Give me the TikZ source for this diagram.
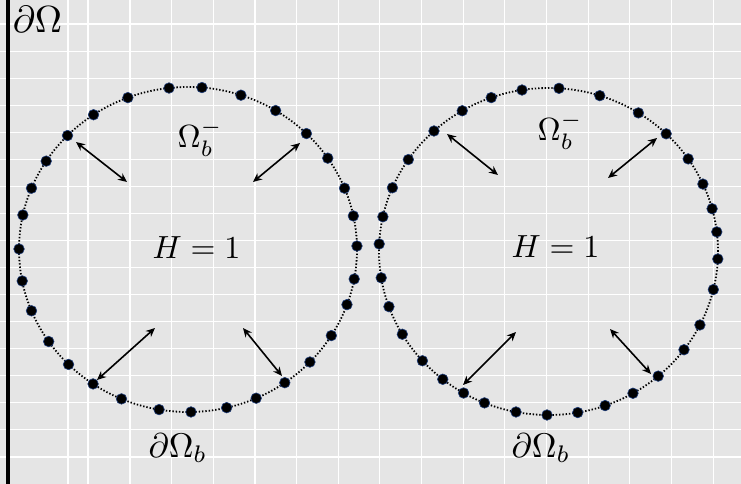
\documentclass[tikz,border=0pt]{standalone}
\usetikzlibrary{arrows.meta}
\definecolor{panel}{HTML}{E5E5E5}
\definecolor{ring}{HTML}{1F3D7A}
\tikzset{
  gridline/.style={draw=white, line width=1.1pt},
  wall/.style={draw=black, line width=3.5pt},
  bdry/.style={draw=black, line width=1.8pt, dash pattern=on 1.4pt off 1.9pt},
  bead/.style={fill=black, draw=ring, line width=0.6pt},
  dblarrow/.style={draw=black, line width=1.6pt, {Stealth[length=9pt,width=8pt]}-{Stealth[length=9pt,width=8pt]}},
  lbl/.style={inner sep=0pt, anchor=base west, scale=3.2, transform shape}
}
\begin{document}
\begin{tikzpicture}[x=1pt,y=-1pt]
\useasboundingbox (0,0) rectangle (741,484);
\fill[panel] (0,0) rectangle (741,484);
% grid
\foreach \k in {0,...,16} \draw[gridline] (0,{24+27.06*\k}) -- (741,{24+27.06*\k});
\foreach \xx in {68,88} \draw[gridline] (\xx,0) -- (\xx,484);
\foreach \k in {0,...,14} \draw[gridline] ({130+41.65*\k},0) -- ({130+41.65*\k},484);
% wall
\draw[wall] (8,0) -- (8,484);
% left closed curve
\draw[bdry] (188,249.5) ellipse [x radius=169pt, y radius=162.5pt];
\foreach \px/\py in {128/98,169/88,202/87,241/95,276/110,307/133,328/158,345/188,353/216,357/246,354/279,348/305,332/336,311/363,285/383,257/400,227/409,191/412,159/410,121/400,93/384,69/364,48/342,31/311,22/281,19.5/249,23/215,31/188,46/161,68/136,93/114}{
  \pgfmathsetmacro\t{atan2(-(\py-249.5)/162.5, (\px-188)/169)}
  \fill[bead] ({188+169*cos(\t)},{249.5-162.5*sin(\t)}) circle[radius=5.3pt];
}
% right closed curve
\draw[bdry] (548.5,251.5) ellipse [x radius=169.5pt, y radius=163.5pt];
\foreach \px/\py in {380/244,384/217,393/188,409/160,434/131,463/112,491/97,522/90,559/88,600/95,639/112,666/134,688/159,703/184,711/209,716/232,718/259,715/290,700/325,683/349,659/377,634/395,606/408,578/414,547/415,516/412,484/404,463/394,443/379,421/362,401/335,388/307,380/278}{
  \pgfmathsetmacro\t{atan2(-(\py-251.5)/163.5, (\px-548.5)/169.5)}
  \fill[bead] ({548.5+169.5*cos(\t)},{251.5-163.5*sin(\t)}) circle[radius=5.3pt];
}
% arrow end points
\coordinate (la1) at (76,142);  \coordinate (lb1) at (127,182);
\coordinate (la2) at (300,143); \coordinate (lb2) at (253,182);
\coordinate (la3) at (97,380);  \coordinate (lb3) at (155,328);
\coordinate (la4) at (282,376); \coordinate (lb4) at (243,328);
\coordinate (ra1) at (447,134); \coordinate (rb1) at (498,175);
\coordinate (ra2) at (657,138); \coordinate (rb2) at (608,178);
\coordinate (ra3) at (463,385); \coordinate (rb3) at (516,332);
\coordinate (ra4) at (651,374); \coordinate (rb4) at (610,329);
\foreach \s in {l,r}{\foreach \i in {1,2,3,4}{\draw[dblarrow] (\s a\i) -- (\s b\i);}}
% labels
\node[lbl, scale=1.18] (dOmega) at (12,33) {$\partial\Omega$};
\node[lbl] (omL) at (177,147) {$\Omega_b^-$};
\node[lbl] (omR) at (537,140) {$\Omega_b^-$};
\node[lbl] (hL) at (152,258) {$H=1$};
\node[lbl] (hR) at (511,257) {$H=1$};
\node[lbl, scale=1.07] (bL) at (148,457) {$\partial\Omega_b$};
\node[lbl, scale=1.07] (bR) at (511,457) {$\partial\Omega_b$};
\end{tikzpicture}
\end{document}
